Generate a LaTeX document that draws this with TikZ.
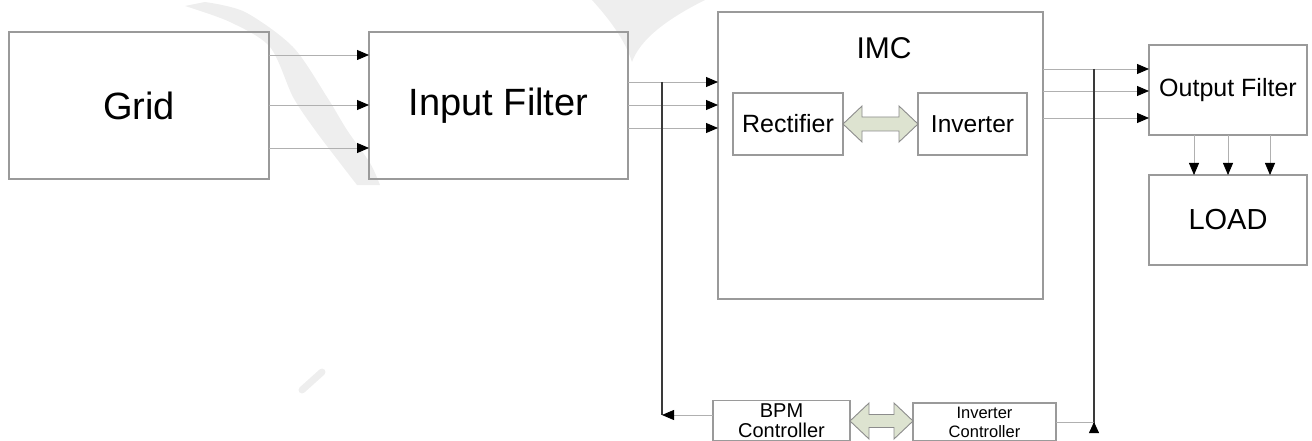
\documentclass[tikz,border=0pt]{standalone}
\usepackage{fontspec}
\setmainfont{Liberation Sans}
\usetikzlibrary{arrows.meta,calc}

\definecolor{boxline}{HTML}{9A9A9A}
\definecolor{wireline}{HTML}{B0B0B0}
\definecolor{busline}{HTML}{3A3A3A}
\definecolor{linkfill}{HTML}{DDE3D0}
\definecolor{linkline}{HTML}{8C8C8C}
\definecolor{wmark}{HTML}{EEEEEE}

\begin{document}
\begin{tikzpicture}[x=1pt,y=-1pt,
  block/.style={draw=boxline, line width=1.1pt, inner sep=0pt, outer sep=0pt, align=center},
  wire/.style={draw=wireline, line width=0.8pt, -{Triangle[length=12pt,width=10pt,color=black]}},
  plainwire/.style={draw=wireline, line width=0.8pt},
  bus/.style={draw=busline, line width=1.8pt},
  link/.style={draw=linkline, fill=linkfill, line width=0.9pt, line join=miter}]

\useasboundingbox (0,0) rectangle (1312,441);

% faint background marks
\fill[wmark] plot[smooth] coordinates {(185,6) (230,22) (270,47) (293,97) (315,130) (340,163) (357,185)}
  -- plot[smooth] coordinates {(380,185) (370,163) (347,130) (327,97) (293,47) (245,12) (205,2)} -- cycle;
\fill[wmark] (592,0) -- (705,0) .. controls (665,20) and (640,40) .. (632,62)
  .. controls (625,40) and (610,20) .. cycle;
\draw[wmark, line width=7pt, line cap=round] (302,390) -- (322,372);

% blocks
\node[block, minimum width=260pt, minimum height=147pt, font=\fontsize{38}{40}\selectfont] (grid) at (139,105.5) {Grid};
\node[block, minimum width=259pt, minimum height=147pt, font=\fontsize{38}{40}\selectfont] (infilt) at (498.5,105.5) {Input Filter};
\node[block, minimum width=325pt, minimum height=287pt] (imc) at (880.5,155.5) {};
\node[font=\fontsize{30}{32}\selectfont, inner sep=0pt] (imctitle) at (884,48) {IMC};
\node[block, minimum width=110pt, minimum height=62pt, font=\fontsize{25}{27}\selectfont] (rect) at (788,124) {Rectifier};
\node[block, minimum width=109pt, minimum height=62pt, font=\fontsize{24.5}{26}\selectfont] (inv) at (972.5,124) {Inverter};
\node[block, minimum width=158pt, minimum height=90pt, font=\fontsize{25}{27}\selectfont] (ofilt) at (1228,90) {Output Filter};
\node[block, minimum width=158pt, minimum height=90pt, font=\fontsize{29}{31}\selectfont] (load) at (1228,220) {LOAD};
\node[block, minimum width=137pt, minimum height=40pt, font=\fontsize{20}{20.5}\selectfont] (bpm) at (781.5,420.5) {BPM\\Controller};
\node[block, minimum width=143pt, minimum height=38pt, font=\fontsize{16.5}{19}\selectfont] (ictrl) at (984.5,422) {Inverter\\Controller};

% three-phase lines
\foreach \y in {55,105,148} {
  \coordinate (ly) at (0,\y);
  \draw[wire] (grid.east |- ly) -- (infilt.west |- ly);
}
\foreach \y in {82,105,128} {
  \coordinate (ly) at (0,\y);
  \draw[wire] (infilt.east |- ly) -- (imc.west |- ly);
}
\foreach \y in {69,91,118} {
  \coordinate (ly) at (0,\y);
  \draw[wire] (imc.east |- ly) -- (ofilt.west |- ly);
}
\foreach \x in {1194,1228,1270} {
  \coordinate (lx) at (\x,0);
  \draw[wire] (ofilt.south -| lx) -- (load.north -| lx);
}

% measurement and feedback paths
\coordinate (tapL) at (662,82);
\coordinate (tapLb) at (662,415);
\draw[bus] (tapL) -- (tapLb);
\draw[wire] (bpm.west |- tapLb) -- (tapLb);

\coordinate (tapR) at (1094,69);
\coordinate (tapRm) at (1094,422);
\coordinate (tapRb) at (1094,432);
\draw[bus] (tapR) -- (tapRb);
\draw[plainwire] (ictrl.east |- tapRm) -- (tapRm);
\draw[draw=busline, line width=0.8pt, -{Triangle[length=11pt,width=10pt,color=black]}] (tapRb) -- (tapRm);

% bidirectional links
\coordinate (ctl) at (0,421);
\draw[link] (rect.east) -- ++(19,-18) -- ++(0,11) -- ++(37,0) -- ++(0,-11) -- (inv.west)
  -- ++(-19,18) -- ++(0,-11) -- ++(-37,0) -- ++(0,11) -- cycle;
\draw[link] (bpm.east |- ctl) -- ++(19,-18) -- ++(0,11.5) -- ++(25,0) -- ++(0,-11.5) -- (ictrl.west |- ctl)
  -- ++(-19,18) -- ++(0,-11.5) -- ++(-25,0) -- ++(0,11.5) -- cycle;
\end{tikzpicture}
\end{document}
